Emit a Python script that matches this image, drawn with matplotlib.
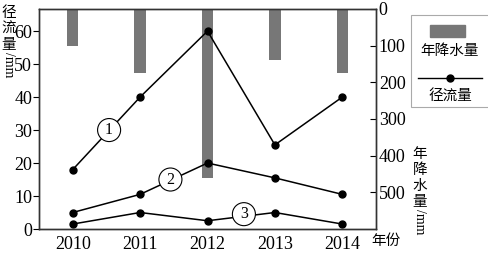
import matplotlib
matplotlib.use("Agg")
import matplotlib.pyplot as plt
from matplotlib.patches import Rectangle
from matplotlib.lines import Line2D

years = [2010, 2011, 2012, 2013, 2014]
rain = [100, 175, 460, 140, 175]          # 年降水量 (mm), 从上往下
runoff1 = [18, 40, 60, 25.5, 40]
runoff2 = [5, 10.5, 20, 15.5, 10.5]
runoff3 = [1.5, 5, 2.5, 5, 1.5]

cjk = ['Noto Sans CJK SC', 'DejaVu Sans']
serif = 'Liberation Serif'

fig = plt.figure(figsize=(4.89, 2.54), dpi=100)
ax = fig.add_axes([39/489, 1-229/254, (376-39)/489, (229-9)/254])
ax2 = ax.twinx()

ax2.bar(years, rain, width=0.17, color='#777777')
ax2.set_ylim(600, 0)
ax2.set_yticks([0, 100, 200, 300, 400, 500])

for ys in (runoff1, runoff2, runoff3):
    ax.plot(years, ys, color='black', lw=1.1, marker='o', ms=5)
ax.set_xlim(2009.5, 2014.5)
ax.set_ylim(0, 66.7)
ax.set_yticks([0, 10, 20, 30, 40, 50, 60])
ax.set_xticks(years)
ax.set_zorder(ax2.get_zorder() + 1)
ax.patch.set_visible(False)

for a in (ax, ax2):
    for s in a.spines.values():
        s.set_color('#333333')
        s.set_linewidth(1.0)
    for lab in a.get_xticklabels() + a.get_yticklabels():
        lab.set_fontfamily(serif)
        lab.set_fontsize(13)
ax.tick_params(axis='x', length=0, pad=5)
ax.tick_params(axis='y', direction='out', length=4, pad=1)
ax2.tick_params(axis='y', direction='in', length=4, pad=2)

# 圆圈编号
for x, y, t in [(2010.54, 30, '1'), (2011.45, 15, '2'), (2012.54, 4.5, '3')]:
    ax.text(x, y, t, ha='center', va='center', fontsize=11.5, family=serif,
            bbox=dict(boxstyle='circle,pad=0.22', fc='white', ec='black', lw=0.8), zorder=5)

# 坐标轴标题 (竖排)
def vlabel(x, ytop, chars):
    y = ytop
    for c in chars:
        fig.text(x/489, 1-y/254, c, ha='center', va='center', fontsize=10.5, family=cjk)
        y += 16
    fig.text(x/489, 1-(y+4)/254, '/mm', ha='center', va='center', fontsize=10,
             family=serif, rotation=270)

vlabel(8.5, 13, '径流量')
vlabel(420, 154, '年降水量')
fig.text(386/489, 1-241/254, '年份', ha='center', va='center', fontsize=10.5, family=cjk)

# 图例
fig.add_artist(Rectangle((411/489, 1-107/254), 78/489, 92/254, transform=fig.transFigure,
                         fill=False, ec='#aaaaaa', lw=0.8))
fig.add_artist(Rectangle((430/489, 1-37/254), 35/489, 12/254, transform=fig.transFigure,
                         color='#777777'))
fig.text(450/489, 1-51/254, '年降水量', ha='center', va='center', fontsize=10.5, family=cjk)
fig.add_artist(Line2D([418/489, 482/489], [1-78/254, 1-78/254], transform=fig.transFigure,
                      color='black', lw=1.0))
fig.add_artist(Line2D([450/489], [1-78/254], transform=fig.transFigure,
                      color='black', marker='o', ms=5))
fig.text(450/489, 1-96/254, '径流量', ha='center', va='center', fontsize=10.5, family=cjk)

fig.savefig('out.png', dpi=100)
